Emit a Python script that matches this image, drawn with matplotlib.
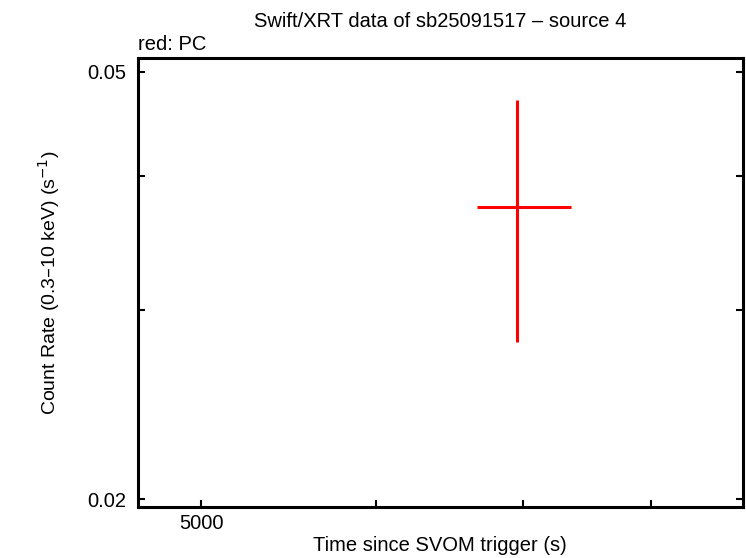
import numpy as np
import matplotlib
matplotlib.use('Agg')
import matplotlib.pyplot as plt
from matplotlib.ticker import FixedLocator, NullLocator, FixedFormatter

# data (PC mode)
t = [6950]
t_lo = [6672]
t_hi = [7356]
rate = [0.03745]
rate_lo = [0.02799]
rate_hi = [0.04708]

x_ticks = [5000, 6000, 7000, 8000]
x_labels = ['5000', '', '', '']
y_ticks = [0.02, 0.03, 0.04, 0.05]
y_labels = ['0.02', '', '', '0.05']

plt.rcParams['font.family'] = ['Liberation Sans', 'DejaVu Sans']

fig = plt.figure(figsize=(7.46, 5.58), dpi=100)
ax = fig.add_axes([137.5 / 746, 1 - 507 / 558, (743 - 137.5) / 746, (507 - 58) / 558])

xerr = [[t[i] - t_lo[i] for i in range(len(t))], [t_hi[i] - t[i] for i in range(len(t))]]
yerr = [[rate[i] - rate_lo[i] for i in range(len(t))], [rate_hi[i] - rate[i] for i in range(len(t))]]
ax.errorbar(t, rate, xerr=xerr, yerr=yerr, fmt='none', ecolor='#ff0000', elinewidth=2.2, capsize=0)

ax.set_xscale('log')
ax.set_yscale('log')
ax.set_xlim(4677, 8806)
ax.set_ylim(0.01966, 0.05152)

ax.xaxis.set_major_locator(FixedLocator(x_ticks))
ax.xaxis.set_major_formatter(FixedFormatter(x_labels))
ax.xaxis.set_minor_locator(NullLocator())
ax.yaxis.set_major_locator(FixedLocator(y_ticks))
ax.yaxis.set_major_formatter(FixedFormatter(y_labels))
ax.yaxis.set_minor_locator(NullLocator())

ax.tick_params(which='both', direction='in', length=5, width=1.5, labelsize=14.5,
               right=True, top=False)
ax.tick_params(axis='y', pad=8)
ax.tick_params(axis='x', pad=5)
for s in ax.spines.values():
    s.set_linewidth(2.2)

ax.set_xlabel('Time since SVOM trigger (s)', fontsize=14.5, labelpad=2)
ax.set_ylabel('Count Rate (0.3\u201310 keV) (s$^{-1}$)', fontsize=14, labelpad=18)
ax.set_title('Swift/XRT data of sb25091517 \u2013 source 4', fontsize=14.5, pad=22)
ax.text(0, 1.01, 'red: PC', transform=ax.transAxes, fontsize=14.5, ha='left', va='bottom')

fig.savefig('out.png', dpi=100)
